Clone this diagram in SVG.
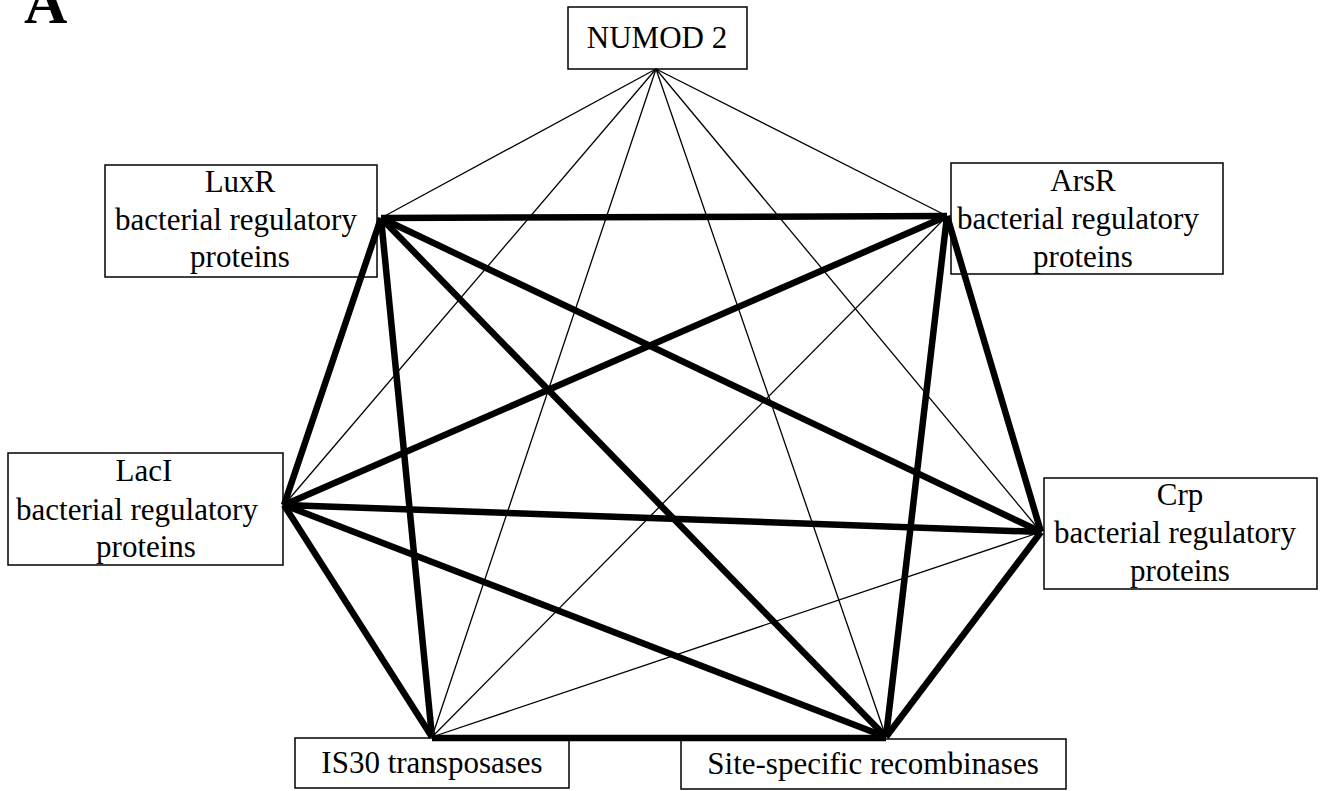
<svg xmlns="http://www.w3.org/2000/svg" width="1322" height="791" viewBox="0 0 1322 791">
<style>
.box{fill:#fff;stroke:#000;stroke-width:1.5}
.t{font-family:"Liberation Serif","Times New Roman",serif;font-size:31px;fill:#000;text-anchor:middle}
.thin{stroke:#000;stroke-width:1.3;fill:none}
.thick{stroke:#000;stroke-width:6.5;fill:none}
</style>
<rect width="1322" height="791" fill="#fff"/>
<text x="24" y="23" style="font-family:'Liberation Serif',serif;font-size:60px;font-weight:bold">A</text>
<g id="numod2"><rect class="box" x="568" y="7" width="179" height="62"/><text class="t" x="657" y="48">NUMOD 2</text></g>
<g id="luxr"><rect class="box" x="105" y="165" width="272" height="112"/><text class="t" x="240" y="192">LuxR</text><text class="t" x="236" y="230">bacterial regulatory</text><text class="t" x="240" y="267">proteins</text></g>
<g id="arsr"><rect class="box" x="951" y="163" width="272" height="111"/><text class="t" x="1083" y="191">ArsR</text><text class="t" x="1078" y="229">bacterial regulatory</text><text class="t" x="1083" y="267">proteins</text></g>
<g id="laci"><rect class="box" x="8" y="453" width="275" height="112"/><text class="t" x="144" y="481">LacI</text><text class="t" x="137" y="520">bacterial regulatory</text><text class="t" x="146" y="557">proteins</text></g>
<g id="crp"><rect class="box" x="1044" y="478" width="273" height="111"/><text class="t" x="1180" y="505">Crp</text><text class="t" x="1175" y="543">bacterial regulatory</text><text class="t" x="1180" y="581">proteins</text></g>
<g id="is30"><rect class="box" x="295" y="738" width="274" height="50"/><text class="t" x="432" y="773">IS30 transposases</text></g>
<g id="site"><rect class="box" x="681" y="739" width="385" height="50"/><text class="t" x="873" y="774">Site-specific recombinases</text></g>
<g id="connectors">
<line class="thin" x1="656" y1="69" x2="381" y2="218"/>
<line class="thin" x1="656" y1="69" x2="947" y2="216"/>
<line class="thin" x1="656" y1="69" x2="284" y2="505"/>
<line class="thin" x1="656" y1="69" x2="1041" y2="532"/>
<line class="thin" x1="656" y1="69" x2="432" y2="737"/>
<line class="thin" x1="656" y1="69" x2="886" y2="737"/>
<line class="thin" x1="947" y1="216" x2="432" y2="737"/>
<line class="thin" x1="1041" y1="532" x2="432" y2="737"/>
<line class="thick" x1="381" y1="218" x2="947" y2="216"/>
<line class="thick" x1="381" y1="218" x2="1041" y2="532"/>
<line class="thick" x1="381" y1="218" x2="886" y2="737"/>
<line class="thick" x1="381" y1="218" x2="432" y2="737"/>
<line class="thick" x1="381" y1="218" x2="284" y2="505"/>
<line class="thick" x1="947" y1="216" x2="284" y2="505"/>
<line class="thick" x1="947" y1="216" x2="886" y2="737"/>
<line class="thick" x1="947" y1="216" x2="1041" y2="532"/>
<line class="thick" x1="284" y1="505" x2="1041" y2="532"/>
<line class="thick" x1="284" y1="505" x2="886" y2="737"/>
<line class="thick" x1="284" y1="505" x2="432" y2="737"/>
<line class="thick" x1="1041" y1="532" x2="886" y2="737"/>
<line class="thick" x1="432" y1="738" x2="886" y2="738"/>
</g>
</svg>
